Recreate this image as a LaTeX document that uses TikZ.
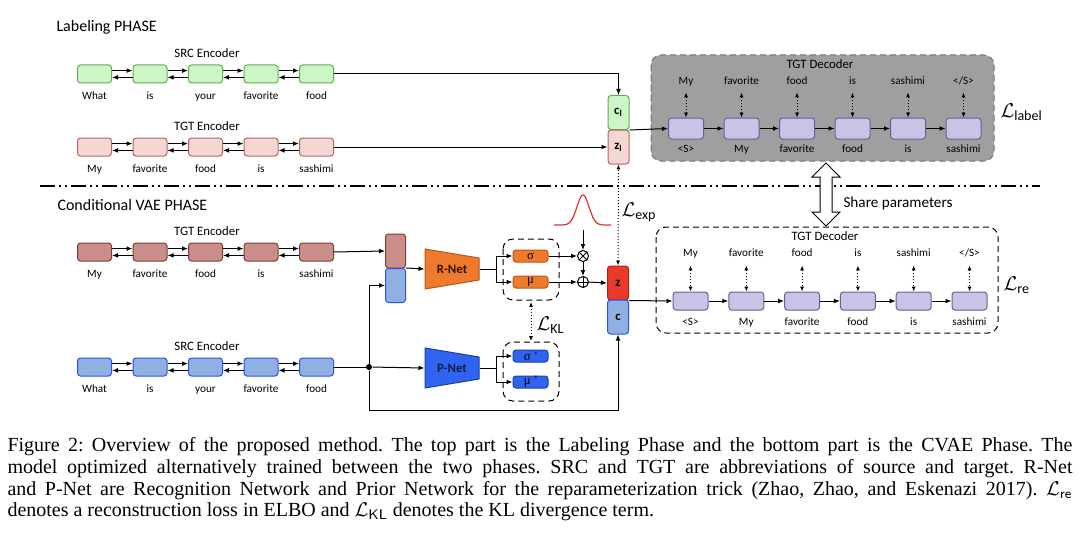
\documentclass[tikz,border=0pt]{standalone}
\usepackage{amsmath}
\usepackage{fontspec}
\usetikzlibrary{arrows.meta}
\newfontfamily\diagfont{Carlito}
\newfontfamily\capfont{Liberation Serif}
\definecolor{srcLFill}{HTML}{CDF5C6}
\definecolor{srcLDraw}{HTML}{5FAE50}
\definecolor{tgtLFill}{HTML}{F4D6D3}
\definecolor{tgtLDraw}{HTML}{B8645E}
\definecolor{tgtCFill}{HTML}{C98E89}
\definecolor{tgtCDraw}{HTML}{7B3B36}
\definecolor{srcCFill}{HTML}{90B0E2}
\definecolor{srcCDraw}{HTML}{2B50E8}
\definecolor{decFill}{HTML}{CBC3E6}
\definecolor{decDraw}{HTML}{6A5C98}
\definecolor{panelGray}{HTML}{9F9F9F}
\definecolor{panelDraw}{HTML}{6C6C8C}
\definecolor{netOrange}{HTML}{EF7A2C}
\definecolor{netOrangeDraw}{HTML}{B8561A}
\definecolor{netBlue}{HTML}{3064EE}
\definecolor{netBlueDraw}{HTML}{1A3CB8}
\definecolor{zRed}{HTML}{E8392A}
\definecolor{zRedDraw}{HTML}{A8241A}
\definecolor{gaussRed}{HTML}{E03030}
\begin{document}
\begin{tikzpicture}[x=0.5pt, y=-0.5pt, line width=0.5pt,
        tip/.style={-{Latex[length=3pt,width=2.4pt]}},
        dottip/.style={densely dotted, {Latex[length=2.4pt,width=2pt]}-{Latex[length=2.4pt,width=2pt]}},
        encbox/.style={draw, rounded corners=1.5pt, minimum width=17pt, minimum height=9pt, inner sep=0pt},
        decbox/.style={encbox, fill=decFill, draw=decDraw, minimum width=17.5pt},
        lsrc/.style={fill=srcLFill, draw=srcLDraw},
        ltgt/.style={fill=tgtLFill, draw=tgtLDraw},
        ctgt/.style={fill=tgtCFill, draw=tgtCDraw},
        csrc/.style={fill=srcCFill, draw=srcCDraw},
        word/.style={font=\diagfont\fontsize{5.6}{6}\selectfont, inner sep=0.5pt, text height=4pt, text depth=1pt},
        title/.style={font=\diagfont\fontsize{6.4}{7}\selectfont, inner sep=0.5pt},
        phase/.style={font=\diagfont\fontsize{8}{9}\selectfont, inner sep=0pt, anchor=west},
        loss/.style={font=\fontsize{10}{12}\selectfont, inner sep=0pt, anchor=west},
        latent/.style={draw, rounded corners=1.5pt, minimum width=10.5pt, minimum height=17pt, inner sep=0pt, font=\diagfont\bfseries\fontsize{6.4}{7}\selectfont},
        gauss/.style={draw, rounded corners=1.5pt, minimum width=17.5pt, minimum height=6pt, inner sep=0pt, font=\capfont\fontsize{6.4}{6}\selectfont},
        op/.style={draw, circle, minimum size=5.5pt, inner sep=0pt},
        group/.style={draw, densely dashed, rounded corners=5pt}]
    \useasboundingbox (0,0) rectangle (1080,540);

    % phase titles and separator
    \node[phase] (labTitle) at (56,27) {Labeling PHASE};
    \node[phase] (vaeTitle) at (57,205) {Conditional VAE PHASE};
    \draw[line width=1pt, dash pattern=on 7.5pt off 2pt on 1pt off 2pt on 1pt off 2pt] (40,186) -- (1040,186);

    % encoders
    \foreach \cRow/\cY/\cStyle/\cTitle/\cWords in {ls/74/lsrc/SRC Encoder/{What,is,your,favorite,food}, lt/147/ltgt/TGT Encoder/{My,favorite,food,is,sashimi}, ct/252/ctgt/TGT Encoder/{My,favorite,food,is,sashimi}, cs/367/csrc/SRC Encoder/{What,is,your,favorite,food}}{
        \node[title] (\cRow title) at (207,\cY-21) {\cTitle};
        \foreach \cWord [count=\cIdx from 0] in \cWords {
            \node[encbox, style=\cStyle] (\cRow\cIdx) at ({94.5+55.5*\cIdx},\cY) {};
            \node[word] (\cRow w\cIdx) at ({94.5+55.5*\cIdx},\cY+22) {\cWord};
        }
        \foreach \cIdx in {0,...,3}{
            \pgfmathtruncatemacro\cNext{\cIdx+1}
            \draw[tip] ([yshift=1.7pt]\cRow\cIdx.east) -- ([yshift=1.7pt]\cRow\cNext.west);
            \draw[tip] ([yshift=-1.7pt]\cRow\cNext.west) -- ([yshift=-1.7pt]\cRow\cIdx.east);
        }
    }

    % decoder panels
    \draw[group, fill=panelGray, draw=panelDraw] (651,55) rectangle (994,161);
    \draw[group] (656,227) rectangle (998,333);
    \node[title] (ldTitle) at (820,64) {TGT Decoder};
    \node[title] (cdTitle) at (825,236) {TGT Decoder};
    \foreach \cIn/\cOut [count=\cIdx from 0] in {<S>/My, My/favorite, favorite/food, food/is, is/sashimi, sashimi/{</S>}}{
        \node[decbox, minimum height=10.5pt] (ld\cIdx) at ({686+55.5*\cIdx},128.5) {};
        \node[word] (ldo\cIdx) at ({686+55.5*\cIdx},82) {\cOut};
        \node[word] (ldi\cIdx) at ({686+55.5*\cIdx},149) {\cIn};
        \draw[dottip, shorten <=2pt] (ldo\cIdx.south) -- (ld\cIdx.north);
        \node[decbox] (cd\cIdx) at ({690.5+55.8*\cIdx},301) {};
        \node[word] (cdo\cIdx) at ({690.5+55.8*\cIdx},253) {\cOut};
        \node[word] (cdi\cIdx) at ({690.5+55.8*\cIdx},322) {\cIn};
        \draw[dottip, shorten <=3pt] (cdo\cIdx.south) -- (cd\cIdx.north);
    }
    \foreach \cIdx in {0,...,4}{
        \pgfmathtruncatemacro\cNext{\cIdx+1}
        \draw[tip] (ld\cIdx) -- (ld\cNext);
        \draw[tip] (cd\cIdx) -- (cd\cNext);
    }
    \node[loss] (lossLabel) at (1000,112) {$\mathcal{L}_{\text{\diagfont label}}$};
    \node[loss] (lossRe) at (1003,285) {$\mathcal{L}_{\text{\diagfont re}}$};

    % share parameters
    \draw[fill=white] (826,163) -- (840,177) -- (832,177) -- (832,212) -- (840,212) -- (826,226)
        -- (812,212) -- (820,212) -- (820,177) -- (812,177) -- cycle;
    \node[phase, font=\diagfont\fontsize{7.6}{8}\selectfont] (shareLabel) at (843,203) {Share parameters};

    % labeling latent
    \node[latent, fill=srcLFill, draw=srcLDraw] (cl) at (618.5,112.5) {c$_{\text{l}}$};
    \node[latent, fill=tgtLFill, draw=tgtLDraw] (zl) at (618.5,147) {z$_{\text{l}}$};
    \draw[tip] (ls4.east) -| (cl.north);
    \draw[tip] (lt4.east) -- (zl.west);
    \draw[tip] (cl.south east) -- (ld0.west);

    % CVAE inputs
    \node[latent, fill=tgtCFill, draw=tgtCDraw, minimum width=10pt] (stackT) at (395.5,251) {};
    \node[latent, fill=srcCFill, draw=srcCDraw, minimum width=10pt] (stackS) at (395.5,285.5) {};
    \draw[tip] (ct4.east) -- (stackT.west);
    \node[circle, fill, inner sep=0pt, minimum size=3pt] (junc) at (369,367) {};
    \coordinate (juncLow) at (369,410);
    \draw (cs4.east) -- (junc);
    \draw[tip] (junc) |- (stackS.west);

    % recognition and prior networks
    \fill[netOrange, draw=netOrangeDraw] (425,249) -- (479,258) -- (479,280) -- (425,289) -- cycle;
    \node[minimum width=27pt, minimum height=20pt, inner sep=0pt, text=black!75!netOrangeDraw, font=\diagfont\bfseries\fontsize{6.4}{7}\selectfont] (rnet) at (452,269) {R-Net};
    \fill[netBlue, draw=netBlueDraw] (425,348) -- (479,357) -- (479,379) -- (425,388) -- cycle;
    \node[minimum width=27pt, minimum height=20pt, inner sep=0pt, text=black!70!netBlue, font=\diagfont\bfseries\fontsize{6.4}{7}\selectfont] (pnet) at (452,368) {P-Net};
    \draw[tip] (stackS.north east) -- (rnet.west);
    \draw[tip] (junc) -- (pnet.west);

    \node[gauss, fill=netOrange, draw=netOrangeDraw] (sigR) at (530.5,256) {σ};
    \node[gauss, fill=netOrange, draw=netOrangeDraw] (muR) at (530.5,282) {μ};
    \node[gauss, fill=netBlue, draw=netBlueDraw] (sigP) at (530.5,356) {σ\,\,'};
    \node[gauss, fill=netBlue, draw=netBlueDraw] (muP) at (530.5,382) {μ\,\,'};
    \draw[group] (503,239) rectangle (559,300);
    \draw[group] (503,342) rectangle (559,401);
    \coordinate (rSplit) at (496,269);
    \coordinate (pSplit) at (496,368);
    \draw (rnet.east) -- (rSplit);
    \draw[tip] (rSplit) |- (sigR.west);
    \draw[tip] (rSplit) |- (muR.west);
    \draw (pnet.east) -- (pSplit);
    \draw[tip] (pSplit) |- (sigP.west);
    \draw[tip] (pSplit) |- (muP.west);
    \coordinate (klTop) at (531,302);
    \coordinate (klBot) at (531,341);
    \draw[dottip] (klTop) -- (klBot);
    \node[loss] (lossKL) at (536,325) {$\mathcal{L}_{\text{\diagfont KL}}$};

    % reparameterization
    \draw[gaussRed, line width=0.6pt] plot[domain=554:611, samples=60] (\x, {225-30*exp(-((\x-583)/8.5)^2)});
    \node[op] (mul) at (583,256) {};
    \draw (mul.north east) -- (mul.south west) (mul.north west) -- (mul.south east);
    \node[op] (add) at (583,282) {};
    \draw (add.north) -- (add.south) (add.east) -- (add.west);
    \coordinate (noise) at (583,230);
    \draw[tip] (noise) -- (mul.north);
    \draw[tip] (sigR.east) -- (mul.west);
    \draw[tip] (mul.south) -- (add.north);
    \draw[tip] (muR.east) -- (add.west);

    % CVAE latent
    \node[latent, fill=zRed, draw=zRedDraw] (zc) at (618,283) {z};
    \node[latent, fill=srcCFill, draw=srcCDraw] (cc) at (618,317) {c};
    \draw[tip] (add.east) -- (zc.west);
    \draw[tip] (junc) -- (juncLow) -| (cc.south);
    \draw[tip] (zc.south east) -- (cd0.west);
    \draw[dottip] (zc.north) -- (zl.south);
    \node[loss] (lossExp) at (621,212) {$\mathcal{L}_{\text{\diagfont exp}}$};

    % caption
    \node[anchor=north west, inner sep=0pt, text width=532.5pt, align=justify, font=\capfont\fontsize{10}{10.9}\selectfont\frenchspacing] (caption) at (7,437)
        {Figure 2: Overview of the proposed method. The top part is the Labeling Phase and the bottom part is the CVAE Phase. The\linebreak
        model optimized alternatively trained between the two phases. SRC and TGT are abbreviations of source and target. R-Net\linebreak
        and P-Net are Recognition Network and Prior Network for the reparameterization trick (Zhao, Zhao, and Eskenazi 2017). $\mathcal{L}_{\textsf{re}}$\linebreak
        denotes a reconstruction loss in ELBO and $\mathcal{L}_{\textsf{KL}}$ denotes the KL divergence term.};
\end{tikzpicture}
\end{document}
